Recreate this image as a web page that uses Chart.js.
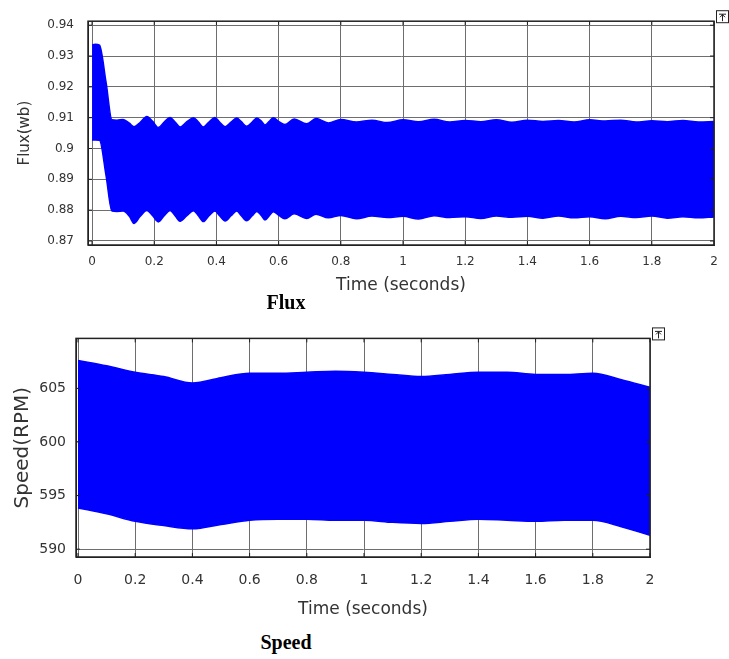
<!DOCTYPE html>
<html>
<head>
<meta charset="utf-8">
<script src="https://cdn.jsdelivr.net/npm/chart.js@4.4.1/dist/chart.umd.min.js"></script>
<style>
  html, body { margin: 0; padding: 0; background: #fff; }
  body { width: 729px; height: 659px; position: relative; overflow: hidden; }
  canvas { position: absolute; left: 0; }
  .cap { position: absolute; font-family: "Liberation Serif", "Times New Roman", serif; font-weight: bold; font-size: 20px; line-height: 20px; color: #000; width: 120px; text-align: center; }
</style>
</head>
<body>
<canvas id="flux" width="729" height="300" style="top:0px"></canvas>
<div class="cap" style="left:226px; top:292px;">Flux</div>
<canvas id="speed" width="729" height="300" style="top:320px"></canvas>
<div class="cap" style="left:226px; top:632px;">Speed</div>
<script>
// ---------------- DATA ----------------
// Flux: envelope (upper / lower edge) of the densely oscillating signal
const fluxTime = [0, 0.01, 0.024, 0.045, 0.064, 0.08, 0.1, 0.12, 0.135, 0.155, 0.176, 0.195, 0.213, 0.232, 0.251, 0.267, 0.283, 0.305, 0.326, 0.342, 0.358, 0.376, 0.395, 0.41, 0.428, 0.447, 0.465, 0.48, 0.497, 0.515, 0.53, 0.545, 0.556, 0.57, 0.583, 0.6, 0.62, 0.65, 0.69, 0.72, 0.76, 0.8, 0.85, 0.9, 0.95, 1.0, 1.05, 1.1, 1.15, 1.2, 1.25, 1.3, 1.35, 1.4, 1.45, 1.5, 1.55, 1.6, 1.65, 1.7, 1.75, 1.8, 1.85, 1.9, 1.95, 2.0];
const fluxUpper = [0.9336, 0.9338, 0.9335, 0.9215, 0.9093, 0.9092, 0.9094, 0.9082, 0.9071, 0.9085, 0.9104, 0.9088, 0.9068, 0.9086, 0.9101, 0.9086, 0.9070, 0.9087, 0.9100, 0.9086, 0.9070, 0.9086, 0.9101, 0.9086, 0.9071, 0.9086, 0.9099, 0.9087, 0.9072, 0.9086, 0.9099, 0.9088, 0.9076, 0.9088, 0.9100, 0.9088, 0.9078, 0.9096, 0.9080, 0.9097, 0.9083, 0.9094, 0.9086, 0.9092, 0.9084, 0.9093, 0.9087, 0.9095, 0.9086, 0.9091, 0.9087, 0.9093, 0.9085, 0.9092, 0.9088, 0.9091, 0.9086, 0.9093, 0.9089, 0.9092, 0.9086, 0.9090, 0.9087, 0.9091, 0.9086, 0.9088];
const fluxLower = [0.9028, 0.9028, 0.9027, 0.8912, 0.8797, 0.8796, 0.8797, 0.8780, 0.8757, 0.8780, 0.8799, 0.8782, 0.8762, 0.8782, 0.8799, 0.8782, 0.8764, 0.8782, 0.8798, 0.8782, 0.8763, 0.8782, 0.8797, 0.8782, 0.8765, 0.8782, 0.8797, 0.8782, 0.8766, 0.8782, 0.8796, 0.8782, 0.8768, 0.8782, 0.8795, 0.8784, 0.8772, 0.8788, 0.8773, 0.8787, 0.8775, 0.8783, 0.8772, 0.8781, 0.8776, 0.8780, 0.8771, 0.8782, 0.8776, 0.8779, 0.8773, 0.8781, 0.8777, 0.8780, 0.8774, 0.8781, 0.8775, 0.8779, 0.8772, 0.8780, 0.8776, 0.8781, 0.8774, 0.8779, 0.8775, 0.8778];

// Speed: envelope of the densely oscillating signal
const speedTime  = [0, 0.1, 0.2, 0.3, 0.4, 0.5, 0.6, 0.7, 0.8, 0.9, 1.0, 1.1, 1.2, 1.3, 1.4, 1.5, 1.6, 1.7, 1.8, 1.9, 2.0];
const speedUpper = [607.6, 607.1, 606.5, 606.1, 605.5, 606.0, 606.4, 606.4, 606.5, 606.6, 606.5, 606.3, 606.1, 606.3, 606.5, 606.5, 606.3, 606.3, 606.4, 605.8, 605.1];
const speedLower = [593.85, 593.3, 592.6, 592.2, 591.9, 592.3, 592.7, 592.8, 592.8, 592.7, 592.7, 592.5, 592.4, 592.6, 592.8, 592.7, 592.6, 592.7, 592.7, 592.1, 591.3];

// Tick labels
const timeTicks = [0, 0.2, 0.4, 0.6, 0.8, 1, 1.2, 1.4, 1.6, 1.8, 2];
const timeTickLabels = ["0", "0.2", "0.4", "0.6", "0.8", "1", "1.2", "1.4", "1.6", "1.8", "2"];
const fluxTicks = [0.87, 0.88, 0.89, 0.9, 0.91, 0.92, 0.93, 0.94];
const fluxTickLabels = ["0.87", "0.88", "0.89", "0.9", "0.91", "0.92", "0.93", "0.94"];
const speedTicks = [590, 595, 600, 605];
const speedTickLabels = ["590", "595", "600", "605"];

// ---------------- RENDER ----------------
const BLUE = "rgb(0,0,255)";
const GRID = "#6e6e6e";
const TXT = "#333333";
const FONT = "'DejaVu Sans', 'Liberation Sans', Arial, sans-serif";

function pts(xs, ys) { return xs.map((x, i) => ({ x: x, y: ys[i] })); }

const framePlugin = {
  id: 'frame',
  afterDraw(chart) {
    const { ctx, chartArea: a } = chart;
    ctx.save();
    ctx.strokeStyle = "#222";
    ctx.lineWidth = 1.5;
    ctx.strokeRect(a.left, a.top, a.right - a.left, a.bottom - a.top);
    // small inward tick marks (MATLAB style)
    ctx.lineWidth = 1;
    const xs = chart.scales.x, ys = chart.scales.y;
    xs.ticks.forEach(t => {
      const px = xs.getPixelForValue(t.value);
      ctx.beginPath();
      ctx.moveTo(px, a.bottom); ctx.lineTo(px, a.bottom - 4);
      ctx.moveTo(px, a.top); ctx.lineTo(px, a.top + 4);
      ctx.stroke();
    });
    ys.ticks.forEach(t => {
      const py = ys.getPixelForValue(t.value);
      ctx.beginPath();
      ctx.moveTo(a.left, py); ctx.lineTo(a.left + 4, py);
      ctx.moveTo(a.right, py); ctx.lineTo(a.right - 4, py);
      ctx.stroke();
    });
    // little scope icon at top-right corner
    const ix = a.right + 2, iy = a.top - 11;
    ctx.fillStyle = "#fff";
    ctx.fillRect(ix, iy, 12, 12);
    ctx.strokeStyle = "#222";
    ctx.strokeRect(ix + 0.5, iy + 0.5, 12, 12);
    ctx.beginPath();
    ctx.moveTo(ix + 3, iy + 4); ctx.lineTo(ix + 10, iy + 4);
    ctx.moveTo(ix + 6.5, iy + 4); ctx.lineTo(ix + 6.5, iy + 11);
    ctx.moveTo(ix + 4, iy + 7); ctx.lineTo(ix + 6.5, iy + 4.5); ctx.lineTo(ix + 9, iy + 7);
    ctx.stroke();
    ctx.restore();
  }
};

function makeChart(id, cfg) {
  return new Chart(document.getElementById(id), {
    type: 'line',
    data: {
      datasets: [
        { data: pts(cfg.t, cfg.upper), borderColor: BLUE, borderWidth: 1.5, pointRadius: 0, fill: false, cubicInterpolationMode: 'monotone' },
        { data: pts(cfg.t, cfg.lower), borderColor: BLUE, borderWidth: 1.5, pointRadius: 0, fill: '-1', backgroundColor: BLUE, cubicInterpolationMode: 'monotone' }
      ]
    },
    options: {
      responsive: false,
      animation: false,
      devicePixelRatio: 1,
      layout: { padding: cfg.padding },
      plugins: { legend: { display: false }, tooltip: { enabled: false } },
      scales: {
        x: {
          type: 'linear',
          min: cfg.xMin, max: 2,
          afterBuildTicks: s => { s.ticks = timeTicks.map(v => ({ value: v })); },
          afterFit: s => { s.height = cfg.xHeight; },
          grid: { color: GRID, lineWidth: 1, drawTicks: false },
          border: { display: true, color: "#222" },
          ticks: {
            autoSkip: false, maxRotation: 0, padding: cfg.xTickPad, color: TXT,
            font: { family: FONT, size: cfg.tickSize },
            callback: (v) => { const i = timeTicks.indexOf(v); return i >= 0 ? timeTickLabels[i] : ''; }
          },
          title: { display: true, text: 'Time (seconds)', color: TXT, font: { family: FONT, size: cfg.xTitleSize }, padding: { top: 0, bottom: cfg.xTitlePad } }
        },
        y: {
          type: 'linear',
          min: cfg.yMin, max: cfg.yMax,
          afterBuildTicks: s => { s.ticks = cfg.yTicks.map(v => ({ value: v })); },
          afterFit: s => { s.width = cfg.yWidth; },
          grid: { color: GRID, lineWidth: 1, drawTicks: false },
          border: { display: true, color: "#222" },
          ticks: {
            autoSkip: false, padding: cfg.yTickPad, color: TXT,
            font: { family: FONT, size: cfg.tickSize },
            callback: (v) => { const i = cfg.yTicks.indexOf(v); return i >= 0 ? cfg.yLabels[i] : ''; }
          },
          title: { display: true, text: cfg.yTitle, color: TXT, font: { family: FONT, size: cfg.yTitleSize }, padding: { top: cfg.yTitlePad, bottom: 0 } }
        }
      }
    },
    plugins: [framePlugin]
  });
}

makeChart('flux', {
  t: fluxTime, upper: fluxUpper, lower: fluxLower,
  xMin: -0.013, yMin: 0.8687, yMax: 0.9413,
  yTicks: fluxTicks, yLabels: fluxTickLabels,
  padding: { top: 16, right: 15, left: 0, bottom: 0 },
  xHeight: 55, yWidth: 88,
  tickSize: 12, xTickPad: 10, yTickPad: 14,
  xTitleSize: 17, xTitlePad: 4,
  yTitle: 'Flux(wb)', yTitleSize: 15, yTitlePad: 16
});

makeChart('speed', {
  t: speedTime, upper: speedUpper, lower: speedLower,
  xMin: -0.007, yMin: 589.27, yMax: 609.66,
  yTicks: speedTicks, yLabels: speedTickLabels,
  padding: { top: 14, right: 79, left: 0, bottom: 0 },
  xHeight: 63, yWidth: 76,
  tickSize: 14, xTickPad: 15, yTickPad: 10,
  xTitleSize: 17, xTitlePad: 0,
  yTitle: 'Speed(RPM)', yTitleSize: 20, yTitlePad: 11
});
</script>
</body>
</html>
